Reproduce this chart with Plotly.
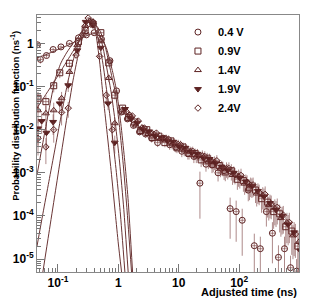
import plotly.graph_objects as go

# ---------------- data (log10 values) ----------------
names = ["0.4 V", "0.9V", "1.4V", "1.9V", "2.4V"]

# peak region: log10(time/ns), log10(pdf), relative errors
peak_lx_04 = [-1.34, -1.29, -1.19, -1.08, -0.95, -0.81, -0.66, -0.53, -0.40, -0.28, -0.14, -0.03]
peak_ly_04 = [-0.03, -0.37, -0.28, -0.14, -0.08, 0.0, 0.13, 0.2, 0.25, 0.1, -0.4, -1.1]
peak_er_04 = [0.15, 0.2, 0.12, 0.1, 0.08, 0.06, 0.05, 0.04, 0.04, 0.05, 0.07, 0.12]

peak_lx_09 = [-1.33, -1.2, -1.07, -0.97, -0.81, -0.66, -0.55, -0.42, -0.29, -0.16, -0.06]
peak_ly_09 = [-1.27, -1.35, -0.98, -0.68, -0.46, 0.04, 0.3, 0.45, 0.25, -0.45, -1.2]
peak_er_09 = [0.4, 0.4, 0.3, 0.25, 0.2, 0.1, 0.06, 0.05, 0.06, 0.1, 0.2]

peak_lx_14 = [-1.33, -1.2, -1.07, -0.94, -0.81, -0.68, -0.55, -0.48, -0.42, -0.29, -0.16, -0.06]
peak_ly_14 = [-1.55, -1.62, -1.55, -1.27, -0.66, -0.04, 0.42, 0.52, 0.5, 0.05, -0.8, -1.85]
peak_er_14 = [0.5, 0.5, 0.5, 0.4, 0.2, 0.1, 0.05, 0.04, 0.05, 0.08, 0.2, 0.35]

peak_lx_19 = [-1.33, -1.27, -1.19, -1.08, -0.97, -0.83, -0.68, -0.54, -0.42, -0.29, -0.17, -0.06]
peak_ly_19 = [-1.97, -1.8, -2.07, -1.82, -1.39, -0.97, -0.16, 0.5, 0.42, -0.1, -1.39, -2.3]
peak_er_19 = [0.6, 0.5, 0.6, 0.5, 0.4, 0.3, 0.1, 0.04, 0.05, 0.1, 0.3, 0.45]

peak_lx_24 = [-1.33, -1.2, -1.07, -0.94, -0.83, -0.7, -0.6, -0.5, -0.42, -0.31, -0.2, -0.1]
peak_ly_24 = [-2.2, -2.4, -2.0, -1.6, -1.5, -0.27, 0.2, 0.59, 0.5, -0.3, -1.2, -2.0]
peak_er_24 = [0.6, 0.6, 0.5, 0.5, 0.4, 0.15, 0.06, 0.04, 0.05, 0.12, 0.3, 0.45]

# tail region (bin centres in log10 ns, each series slightly shifted)
tail_lx = [0.05, 0.15, 0.25, 0.35, 0.45, 0.55, 0.65, 0.75, 0.85, 0.95,
           1.05, 1.15, 1.25, 1.35, 1.45, 1.55, 1.65, 1.75, 1.85, 1.95,
           2.05, 2.15, 2.25, 2.35, 2.45, 2.55, 2.65, 2.75, 2.85, 2.95]
tail_shift = [0.0, 0.02, 0.04, 0.06, 0.08]

tail_ly_04 = [-1.59, -1.75, -1.9, -2.05, -2.1, -2.2, -2.3, -2.2, -2.35, -2.4,
              -2.5, -2.55, -2.62, -3.24, -2.8, -2.82, -3.0, -2.95, -3.83, -3.9,
              -4.1, -3.4, -4.69, -4.76, -3.9, -4.4, -4.96, -4.76, -5.2, -5.28]
tail_ly_09 = [-1.5, -1.72, -1.82, -2.02, -2.0, -2.18, -2.15, -2.3, -2.26, -2.42,
              -2.4, -2.55, -2.55, -2.7, -2.66, -2.8, -2.83, -2.98, -2.95, -3.15,
              -3.18, -3.35, -3.4, -3.6, -3.68, -3.9, -3.95, -4.25, -4.35, -4.7]
tail_ly_14 = [-1.6, -1.66, -1.9, -1.95, -2.1, -2.1, -2.22, -2.2, -2.34, -2.33,
              -2.48, -2.5, -2.62, -2.6, -2.74, -2.75, -2.9, -2.9, -3.05, -3.08,
              -3.25, -3.28, -3.48, -3.52, -3.75, -3.82, -4.05, -4.15, -4.45, -4.6]
tail_ly_19 = [-1.52, -1.75, -1.84, -2.0, -2.04, -2.15, -2.18, -2.26, -2.28, -2.4,
              -2.42, -2.52, -2.56, -2.66, -2.68, -2.78, -2.86, -2.94, -3.0, -3.12,
              -3.2, -3.3, -3.42, -3.55, -3.7, -3.86, -4.0, -4.2, -4.38, -4.8]
tail_ly_24 = [-1.58, -1.68, -1.8, -1.96, -2.08, -2.08, -2.2, -2.22, -2.32, -2.35,
              -2.46, -2.5, -2.6, -2.62, -2.72, -2.72, -2.88, -2.9, -3.04, -3.06,
              -3.22, -3.28, -3.45, -3.5, -3.72, -3.8, -3.98, -4.15, -4.42, -4.65]

tail_er = [0.12, 0.14, 0.15, 0.17, 0.18, 0.2, 0.21, 0.22, 0.24, 0.25,
           0.27, 0.28, 0.3, 0.32, 0.33, 0.35, 0.37, 0.39, 0.41, 0.43,
           0.45, 0.48, 0.5, 0.53, 0.56, 0.6, 0.63, 0.67, 0.72, 0.8]
tail_er_04 = [0.12, 0.14, 0.15, 0.17, 0.18, 0.2, 0.21, 0.22, 0.24, 0.25,
              0.27, 0.28, 0.3, 0.85, 0.33, 0.35, 0.37, 0.39, 0.8, 0.8,
              0.85, 0.45, 0.9, 0.9, 0.55, 0.8, 0.9, 0.9, 0.9, 0.9]

# fitted curves (log10 x, log10 y)
fit_lx_04 = [-1.347, -1.2, -1.0, -0.8, -0.6, -0.45, -0.36, -0.28, -0.2, -0.14, -0.08, -0.03, 0.04, 0.1, 0.16, 0.235]
fit_ly_04 = [-0.33, -0.26, -0.14, -0.02, 0.13, 0.22, 0.22, 0.12, -0.1, -0.4, -0.75, -1.1, -1.85, -2.65, -3.6, -5.3]
fit_lx_09 = [-1.347, -1.2, -1.05, -0.9, -0.75, -0.62, -0.52, -0.44, -0.37, -0.3, -0.23, -0.16, -0.1, -0.05, 0.02, 0.08, 0.14, 0.218]
fit_ly_09 = [-1.5, -1.18, -0.86, -0.52, -0.18, 0.12, 0.33, 0.44, 0.42, 0.28, 0.0, -0.43, -0.82, -1.13, -1.95, -2.8, -3.8, -5.3]
fit_lx_14 = [-1.347, -1.25, -1.15, -1.05, -0.95, -0.85, -0.75, -0.65, -0.56, -0.49, -0.43, -0.37, -0.3, -0.25, -0.21, -0.12, -0.05, 0.02, 0.09, 0.162]
fit_ly_14 = [-3.05, -2.3, -1.55, -0.85, -0.45, -0.2, 0.0, 0.18, 0.38, 0.52, 0.55, 0.42, 0.15, -0.12, -0.43, -1.13, -1.85, -2.75, -3.85, -5.3]
fit_lx_19 = [-1.347, -1.25, -1.15, -1.05, -0.95, -0.83, -0.73, -0.64, -0.56, -0.49, -0.43, -0.37, -0.31, -0.26, -0.19, -0.12, -0.04, 0.03, 0.108]
fit_ly_19 = [-4.7, -3.95, -3.2, -2.45, -1.7, -0.85, -0.3, 0.1, 0.38, 0.5, 0.48, 0.28, -0.05, -0.43, -1.13, -1.9, -2.9, -3.9, -5.3]
fit_lx_24 = [-1.25, -1.15, -1.05, -0.95, -0.85, -0.75, -0.67, -0.6, -0.54, -0.48, -0.43, -0.38, -0.31, -0.26, -0.2, -0.12, -0.05, 0.0, 0.053]
fit_ly_24 = [-5.3, -4.4, -3.5, -2.6, -1.7, -0.85, -0.3, 0.1, 0.4, 0.58, 0.55, 0.3, -0.43, -1.13, -1.9, -2.95, -3.95, -4.65, -5.3]

x_tickvals = [0.1, 1, 10, 100]
x_ticktext = ["10<sup>-1</sup>", "1", "10", "10<sup>2</sup>"]
y_tickvals = [1e-5, 1e-4, 1e-3, 1e-2, 1e-1, 1]
y_ticktext = ["10<sup>-5</sup>", "10<sup>-4</sup>", "10<sup>-3</sup>", "10<sup>-2</sup>", "10<sup>-1</sup>", "1"]

# minor tick positions (2..9 in every decade)
x_minor = [m * 10.0 ** d for d in range(-2, 3) for m in range(2, 10)]
y_minor = [m * 10.0 ** d for d in range(-6, 1) for m in range(2, 10)]

# ---------------- build figure ----------------
MK = "#5c2222"
LN = "#6a3535"
EB = "rgba(120,60,60,0.6)"
symbols = ["circle-open", "square-open", "triangle-up-open", "triangle-down", "diamond-open"]
sizes = [6, 6, 6, 6, 5]

peaks = [(peak_lx_04, peak_ly_04, peak_er_04), (peak_lx_09, peak_ly_09, peak_er_09),
         (peak_lx_14, peak_ly_14, peak_er_14), (peak_lx_19, peak_ly_19, peak_er_19),
         (peak_lx_24, peak_ly_24, peak_er_24)]
tails = [(tail_ly_04, tail_er_04), (tail_ly_09, tail_er), (tail_ly_14, tail_er),
         (tail_ly_19, tail_er), (tail_ly_24, tail_er)]
fits = [(fit_lx_04, fit_ly_04), (fit_lx_09, fit_ly_09), (fit_lx_14, fit_ly_14),
        (fit_lx_19, fit_ly_19), (fit_lx_24, fit_ly_24)]

fig = go.Figure()
for i, name in enumerate(names):
    plx, ply, per = peaks[i]
    tly, ter = tails[i]
    lx = list(plx) + [u + tail_shift[i] for u in tail_lx]
    ly = list(ply) + list(tly)
    rel = list(per) + list(ter)
    xs = [10 ** u for u in lx]
    ys = [10 ** v for v in ly]
    es = [r * y for r, y in zip(rel, ys)]
    fig.add_trace(go.Scatter(
        x=xs, y=ys, mode="markers", name=name,
        marker=dict(symbol=symbols[i], size=sizes[i], color=MK, line=dict(color=MK, width=1)),
        error_y=dict(type="data", array=es, color=EB, thickness=1, width=0),
        error_x=dict(type="percent", value=12, color=EB, thickness=1, width=0),
    ))

for i, (flx, fly) in enumerate(fits):
    fig.add_trace(go.Scatter(
        x=[10 ** u for u in flx], y=[10 ** v for v in fly], mode="lines",
        line=dict(color=LN, width=1, shape="spline", smoothing=0.6),
        showlegend=False, hoverinfo="skip",
    ))

FONT = "Liberation Sans, Arial, Helvetica, sans-serif"
axis_common = dict(
    type="log", ticks="inside", ticklen=8, tickcolor="#777", showgrid=False, zeroline=False,
    showline=True, linecolor="#888", linewidth=1, mirror=True, automargin=False,
    tickfont=dict(family=FONT, size=12, color="black", weight="bold"),
)
# the page body has an 8px default margin, so margins are reduced by 8px on left/top
fig.update_layout(
    width=315, height=302,
    margin=dict(l=29, r=24, t=7, b=38, autoexpand=False),
    paper_bgcolor="white", plot_bgcolor="white",
    font=dict(family=FONT, size=11, color="black"),
    showlegend=True,
    legend=dict(x=0.538, y=0.99, xanchor="left", yanchor="top",
                bgcolor="rgba(0,0,0,0)", borderwidth=0, tracegroupgap=0,
                font=dict(family=FONT, size=11, color="black", weight="bold")),
    xaxis=dict(axis_common, range=[-1.347, 2.99], tickvals=x_tickvals, ticktext=x_ticktext,
               minor=dict(ticks="inside", ticklen=4, tickcolor="#777", showgrid=False, tickvals=x_minor)),
    yaxis=dict(axis_common, range=[-5.3, 0.66], tickvals=y_tickvals, ticktext=y_ticktext,
               minor=dict(ticks="inside", ticklen=4, tickcolor="#777", showgrid=False, tickvals=y_minor)),
    annotations=[
        dict(text="Adjusted time (ns)", xref="paper", yref="paper", x=1.0, y=-0.078,
             xanchor="right", yanchor="middle", showarrow=False,
             font=dict(family=FONT, size=11, color="black", weight="bold")),
        dict(text="Probability distribution function (ns<sup>-1</sup>)", xref="paper", yref="paper",
             x=-0.085, y=0.945, xanchor="center", yanchor="top", textangle=-90, showarrow=False,
             font=dict(family=FONT, size=9.5, color="black", weight="bold")),
    ],
)

fig.write_html("out.html")
